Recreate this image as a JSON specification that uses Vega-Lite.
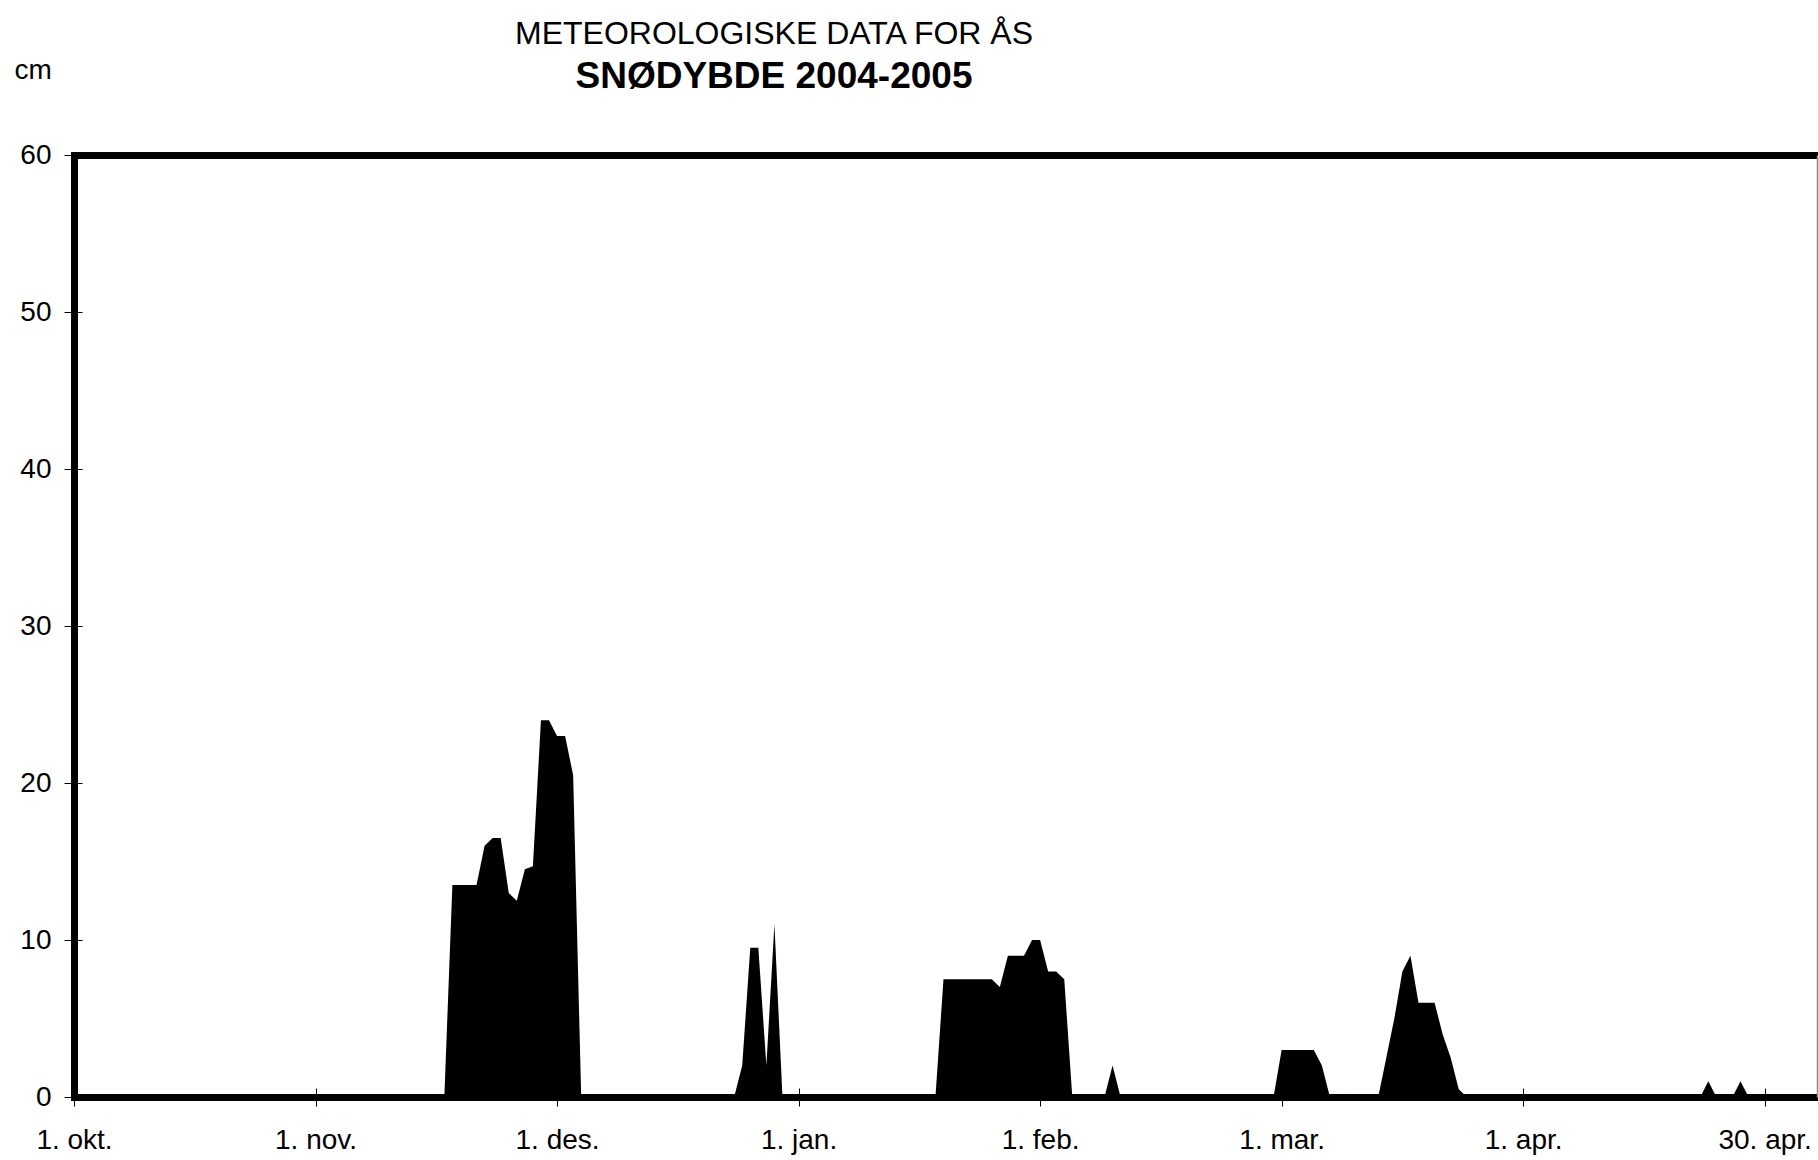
{
  "$schema": "https://vega.github.io/schema/vega-lite/v6.json",
  "width": 1743,
  "height": 942,
  "autosize": {"type": "none"},
  "padding": {"left": 74, "top": 155, "right": 1, "bottom": 63},
  "background": "white",
  "config": {"font": "Liberation Sans", "view": {"stroke": null}},
  "title": {
    "text": "METEOROLOGISKE DATA FOR ÅS",
    "subtitle": "SNØDYBDE 2004-2005",
    "anchor": "middle",
    "dx": -171.5,
    "font": "Liberation Sans",
    "fontSize": 32,
    "fontWeight": "normal",
    "color": "black",
    "subtitleFont": "Liberation Sans",
    "subtitleFontSize": 37,
    "subtitleFontWeight": "bold",
    "subtitleColor": "black",
    "subtitlePadding": 8,
    "offset": -40
  },
  "data": {"values": [
    {"dag":0,"cm":0},{"dag":1,"cm":0},{"dag":2,"cm":0},{"dag":3,"cm":0},{"dag":4,"cm":0},{"dag":5,"cm":0},{"dag":6,"cm":0},{"dag":7,"cm":0},{"dag":8,"cm":0},{"dag":9,"cm":0},
    {"dag":10,"cm":0},{"dag":11,"cm":0},{"dag":12,"cm":0},{"dag":13,"cm":0},{"dag":14,"cm":0},{"dag":15,"cm":0},{"dag":16,"cm":0},{"dag":17,"cm":0},{"dag":18,"cm":0},{"dag":19,"cm":0},
    {"dag":20,"cm":0},{"dag":21,"cm":0},{"dag":22,"cm":0},{"dag":23,"cm":0},{"dag":24,"cm":0},{"dag":25,"cm":0},{"dag":26,"cm":0},{"dag":27,"cm":0},{"dag":28,"cm":0},{"dag":29,"cm":0},
    {"dag":30,"cm":0},{"dag":31,"cm":0},{"dag":32,"cm":0},{"dag":33,"cm":0},{"dag":34,"cm":0},{"dag":35,"cm":0},{"dag":36,"cm":0},{"dag":37,"cm":0},{"dag":38,"cm":0},{"dag":39,"cm":0},
    {"dag":40,"cm":0},{"dag":41,"cm":0},{"dag":42,"cm":0},{"dag":43,"cm":0},{"dag":44,"cm":0},{"dag":45,"cm":0},{"dag":46,"cm":0},{"dag":47,"cm":13.5},{"dag":48,"cm":13.5},{"dag":49,"cm":13.5},
    {"dag":50,"cm":13.5},{"dag":51,"cm":16},{"dag":52,"cm":16.5},{"dag":53,"cm":16.5},{"dag":54,"cm":13},{"dag":55,"cm":12.5},{"dag":56,"cm":14.5},{"dag":57,"cm":14.7},{"dag":58,"cm":24},{"dag":59,"cm":24},
    {"dag":60,"cm":23},{"dag":61,"cm":23},{"dag":62,"cm":20.5},{"dag":63,"cm":0},{"dag":64,"cm":0},{"dag":65,"cm":0},{"dag":66,"cm":0},{"dag":67,"cm":0},{"dag":68,"cm":0},{"dag":69,"cm":0},
    {"dag":70,"cm":0},{"dag":71,"cm":0},{"dag":72,"cm":0},{"dag":73,"cm":0},{"dag":74,"cm":0},{"dag":75,"cm":0},{"dag":76,"cm":0},{"dag":77,"cm":0},{"dag":78,"cm":0},{"dag":79,"cm":0},
    {"dag":80,"cm":0},{"dag":81,"cm":0},{"dag":82,"cm":0},{"dag":83,"cm":2},{"dag":84,"cm":9.5},{"dag":85,"cm":9.5},{"dag":86,"cm":2},{"dag":87,"cm":11},{"dag":88,"cm":0},{"dag":89,"cm":0},
    {"dag":90,"cm":0},{"dag":91,"cm":0},{"dag":92,"cm":0},{"dag":93,"cm":0},{"dag":94,"cm":0},{"dag":95,"cm":0},{"dag":96,"cm":0},{"dag":97,"cm":0},{"dag":98,"cm":0},{"dag":99,"cm":0},
    {"dag":100,"cm":0},{"dag":101,"cm":0},{"dag":102,"cm":0},{"dag":103,"cm":0},{"dag":104,"cm":0},{"dag":105,"cm":0},{"dag":106,"cm":0},{"dag":107,"cm":0},{"dag":108,"cm":7.5},{"dag":109,"cm":7.5},
    {"dag":110,"cm":7.5},{"dag":111,"cm":7.5},{"dag":112,"cm":7.5},{"dag":113,"cm":7.5},{"dag":114,"cm":7.5},{"dag":115,"cm":7},{"dag":116,"cm":9},{"dag":117,"cm":9},{"dag":118,"cm":9},{"dag":119,"cm":10},
    {"dag":120,"cm":10},{"dag":121,"cm":8},{"dag":122,"cm":8},{"dag":123,"cm":7.5},{"dag":124,"cm":0},{"dag":125,"cm":0},{"dag":126,"cm":0},{"dag":127,"cm":0},{"dag":128,"cm":0},{"dag":129,"cm":2},
    {"dag":130,"cm":0},{"dag":131,"cm":0},{"dag":132,"cm":0},{"dag":133,"cm":0},{"dag":134,"cm":0},{"dag":135,"cm":0},{"dag":136,"cm":0},{"dag":137,"cm":0},{"dag":138,"cm":0},{"dag":139,"cm":0},
    {"dag":140,"cm":0},{"dag":141,"cm":0},{"dag":142,"cm":0},{"dag":143,"cm":0},{"dag":144,"cm":0},{"dag":145,"cm":0},{"dag":146,"cm":0},{"dag":147,"cm":0},{"dag":148,"cm":0},{"dag":149,"cm":0},
    {"dag":150,"cm":3},{"dag":151,"cm":3},{"dag":152,"cm":3},{"dag":153,"cm":3},{"dag":154,"cm":3},{"dag":155,"cm":2},{"dag":156,"cm":0},{"dag":157,"cm":0},{"dag":158,"cm":0.2},{"dag":159,"cm":0},
    {"dag":160,"cm":0},{"dag":161,"cm":0},{"dag":162,"cm":0},{"dag":163,"cm":2.5},{"dag":164,"cm":5},{"dag":165,"cm":8},{"dag":166,"cm":9},{"dag":167,"cm":6},{"dag":168,"cm":6},{"dag":169,"cm":6},
    {"dag":170,"cm":4},{"dag":171,"cm":2.5},{"dag":172,"cm":0.5},{"dag":173,"cm":0},{"dag":174,"cm":0},{"dag":175,"cm":0},{"dag":176,"cm":0},{"dag":177,"cm":0},{"dag":178,"cm":0},{"dag":179,"cm":0},
    {"dag":180,"cm":0},{"dag":181,"cm":0},{"dag":182,"cm":0},{"dag":183,"cm":0},{"dag":184,"cm":0},{"dag":185,"cm":0},{"dag":186,"cm":0},{"dag":187,"cm":0},{"dag":188,"cm":0},{"dag":189,"cm":0},
    {"dag":190,"cm":0},{"dag":191,"cm":0},{"dag":192,"cm":0},{"dag":193,"cm":0},{"dag":194,"cm":0},{"dag":195,"cm":0},{"dag":196,"cm":0},{"dag":197,"cm":0},{"dag":198,"cm":0},{"dag":199,"cm":0},
    {"dag":200,"cm":0},{"dag":201,"cm":0},{"dag":202,"cm":0},{"dag":203,"cm":1},{"dag":204,"cm":0},{"dag":205,"cm":0},{"dag":206,"cm":0},{"dag":207,"cm":1},{"dag":208,"cm":0},{"dag":209,"cm":0},
    {"dag":210,"cm":0},{"dag":211,"cm":0},{"dag":212,"cm":0},{"dag":213,"cm":0},{"dag":214,"cm":0},{"dag":215,"cm":0},{"dag":216,"cm":0}
  ]},
  "layer": [
    {
      "mark": {"type": "area", "color": "black", "interpolate": "linear"},
      "encoding": {
        "x": {"field": "dag", "type": "quantitative",
          "scale": {"domain": [0, 216.5], "nice": false, "zero": false},
          "axis": {
            "orient": "bottom",
            "values": [0, 30, 60, 90, 120, 150, 180, 210],
            "labelExpr": "['1. okt.','1. nov.','1. des.','1. jan.','1. feb.','1. mar.','1. apr.','30. apr.'][round(datum.value/30)]",
            "title": null, "grid": false,
            "domainColor": "black", "domainWidth": 7, "domainCap": "square",
            "tickColor": "black", "tickWidth": 1, "tickSize": 9,
            "labelFont": "Liberation Sans", "labelFontSize": 28, "labelColor": "black",
            "labelPadding": 20, "labelFlush": false, "labelOverlap": false
          }
        },
        "y": {"field": "cm", "type": "quantitative",
          "scale": {"domain": [0, 60], "nice": false},
          "axis": {
            "orient": "left",
            "values": [0, 10, 20, 30, 40, 50, 60],
            "grid": false,
            "domainColor": "black", "domainWidth": 7, "domainCap": "square",
            "tickColor": "black", "tickWidth": 1, "tickSize": 10,
            "labelFont": "Liberation Sans", "labelFontSize": 28, "labelColor": "black",
            "labelPadding": 13,
            "title": "cm", "titleAngle": 0, "titleX": -60, "titleY": -77,
            "titleAlign": "left", "titleBaseline": "alphabetic",
            "titleFont": "Liberation Sans", "titleFontSize": 28, "titleFontWeight": "normal", "titleColor": "black"
          }
        }
      }
    },
    {
      "mark": {"type": "area", "opacity": 0},
      "encoding": {
        "x": {"field": "dag", "type": "quantitative",
          "axis": {"orient": "top", "title": null, "grid": false, "labels": false, "ticks": false,
            "domainColor": "black", "domainWidth": 7, "domainCap": "square"}
        },
        "y": {"field": "cm", "type": "quantitative",
          "axis": {"orient": "right", "title": null, "grid": false, "labels": false, "ticks": false,
            "domainColor": "#8c8c8c", "domainWidth": 1.5}
        }
      }
    },
    {
      "mark": {"type": "area", "opacity": 0},
      "encoding": {
        "x": {"field": "dag", "type": "quantitative",
          "axis": {"orient": "bottom", "values": [0, 30, 60, 90, 120, 150, 180, 210], "title": null, "grid": false, "labels": false, "domain": false,
            "tickColor": "black", "tickWidth": 1, "tickSize": -9}
        },
        "y": {"field": "cm", "type": "quantitative",
          "axis": {"orient": "left", "values": [0, 10, 20, 30, 40, 50, 60], "title": null, "grid": false, "labels": false, "domain": false,
            "tickColor": "black", "tickWidth": 1, "tickSize": -8}
        }
      }
    }
  ],
  "resolve": {"axis": {"x": "independent", "y": "independent"}}
}
